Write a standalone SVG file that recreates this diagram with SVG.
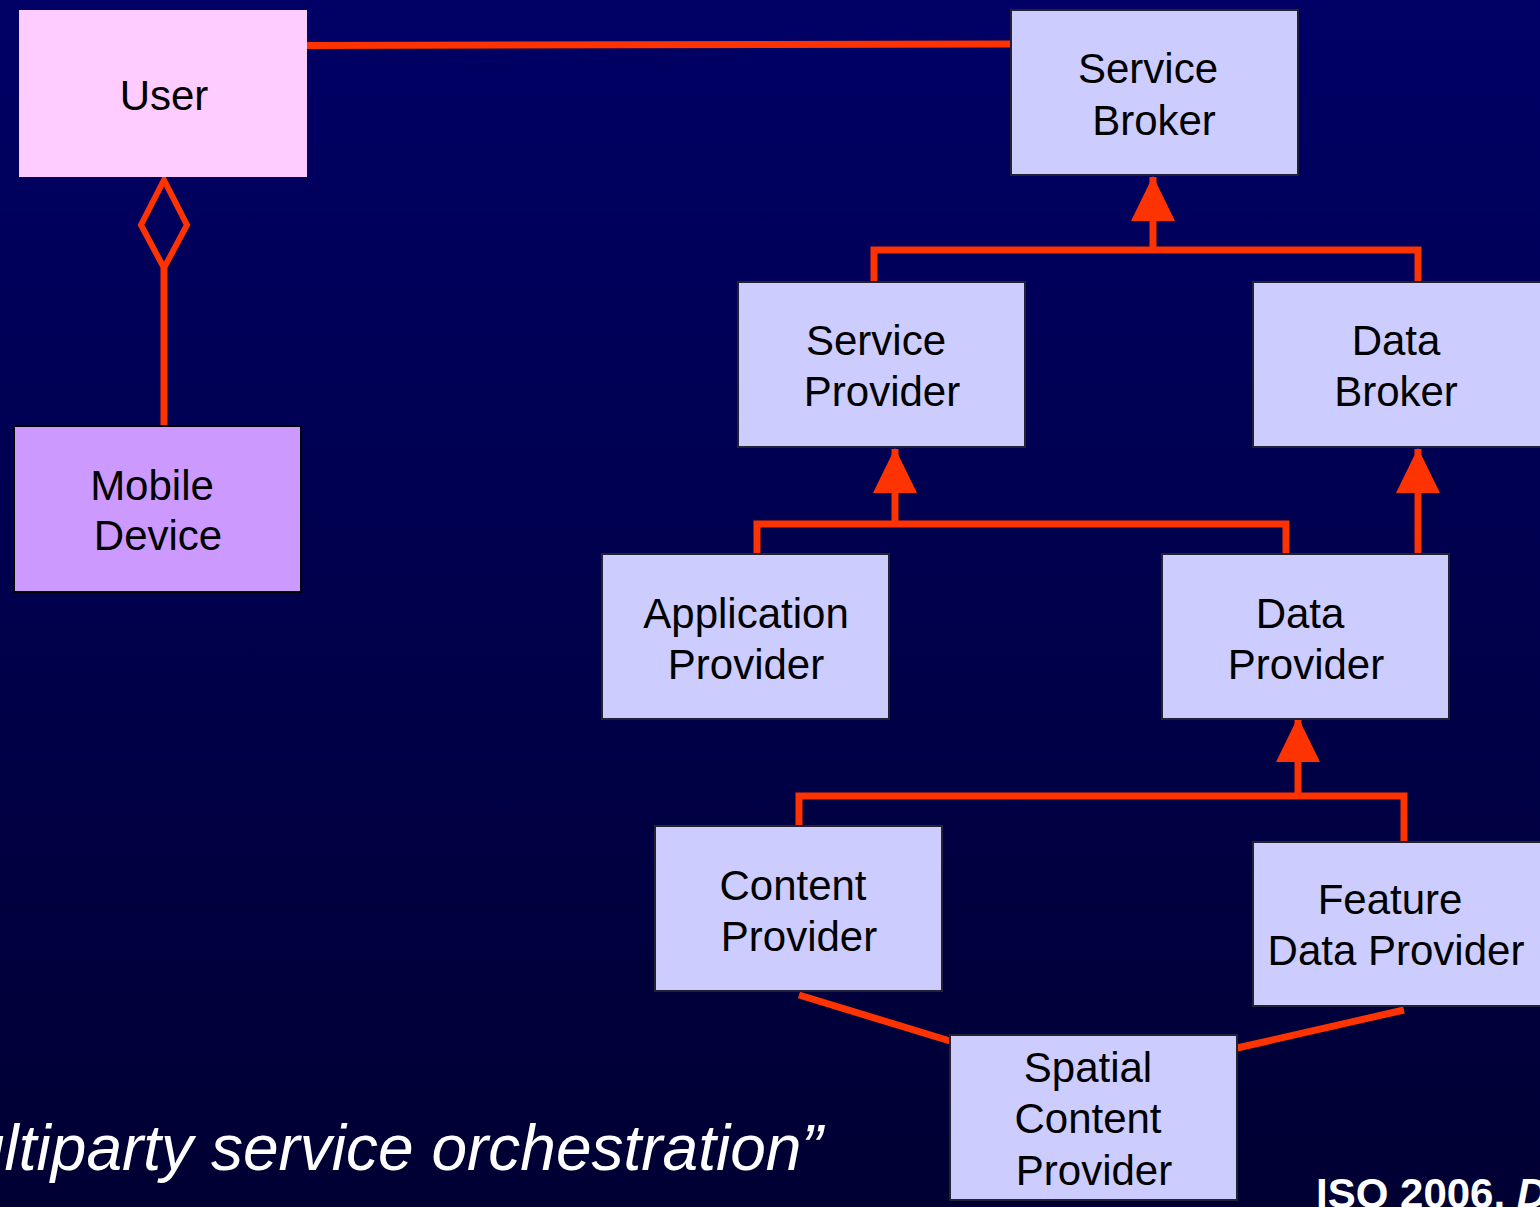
<svg xmlns="http://www.w3.org/2000/svg" width="1540" height="1207" viewBox="0 0 1540 1207">
<style>
.box{fill:#CCCCFF;stroke:#222233;stroke-width:2}
.lbl{font-family:"Liberation Sans",Arial,sans-serif;font-size:42px;fill:#000;text-anchor:middle}
.con{fill:none;stroke:#FF3300;stroke-width:7;stroke-linejoin:miter}
</style>
<defs>
<linearGradient id="bg" x1="0" y1="0" x2="0" y2="1">
<stop offset="0" stop-color="#000066"/>
<stop offset="1" stop-color="#000033"/>
</linearGradient>
<marker id="tri" viewBox="0 0 45 44" refX="44" refY="22" markerWidth="45" markerHeight="44" markerUnits="userSpaceOnUse" orient="auto">
<path d="M0,0 L45,22 L0,44 Z" fill="#FF3300"/>
</marker>
</defs>
<rect x="0" y="0" width="1540" height="1207" fill="url(#bg)"/>

<g id="connectors">
<path class="con" d="M307,45.5 L1011,44"/>
<polygon points="164,180 141,225 164,268 187,225" fill="none" stroke="#FF3300" stroke-width="6"/>
<path class="con" d="M164,268 V426"/>
<path class="con" d="M874,282 V250 H1418 V282"/>
<path class="con" d="M1153,250 V177" marker-end="url(#tri)"/>
<path class="con" d="M757,554 V524 H1286 V554"/>
<path class="con" d="M895,524 V449" marker-end="url(#tri)"/>
<path class="con" d="M1418,554 V449" marker-end="url(#tri)"/>
<path class="con" d="M799,826 V796 H1404 V842"/>
<path class="con" d="M1298,796 V718" marker-end="url(#tri)"/>
<path class="con" d="M799,995 L950,1041"/>
<path class="con" d="M1404,1010 L1237,1048"/>
</g>

<g id="user">
<rect x="19" y="10" width="288" height="167" fill="#FFCCFF"/>
<text class="lbl" x="164" y="110">User</text>
</g>
<g id="service-broker">
<rect class="box" x="1011" y="10" width="287" height="165"/>
<text class="lbl" x="1148" y="83">Service</text>
<text class="lbl" x="1154" y="135">Broker</text>
</g>
<g id="service-provider">
<rect class="box" x="738" y="282" width="287" height="165"/>
<text class="lbl" x="876" y="355">Service</text>
<text class="lbl" x="882" y="406">Provider</text>
</g>
<g id="data-broker">
<rect class="box" x="1253" y="282" width="288" height="165"/>
<text class="lbl" x="1396" y="355">Data</text>
<text class="lbl" x="1396" y="406">Broker</text>
</g>
<g id="mobile-device">
<rect x="14" y="426" width="287" height="166" fill="#CC99FF" stroke="#000" stroke-width="2"/>
<text class="lbl" x="152" y="500">Mobile</text>
<text class="lbl" x="158" y="550">Device</text>
</g>
<g id="application-provider">
<rect class="box" x="602" y="554" width="287" height="165"/>
<text class="lbl" x="746" y="628">Application</text>
<text class="lbl" x="746" y="679">Provider</text>
</g>
<g id="data-provider">
<rect class="box" x="1162" y="554" width="287" height="165"/>
<text class="lbl" x="1300" y="628">Data</text>
<text class="lbl" x="1306" y="679">Provider</text>
</g>
<g id="content-provider">
<rect class="box" x="655" y="826" width="287" height="165"/>
<text class="lbl" x="793" y="900">Content</text>
<text class="lbl" x="799" y="951">Provider</text>
</g>
<g id="feature-data-provider">
<rect class="box" x="1253" y="842" width="288" height="164"/>
<text class="lbl" x="1390" y="914">Feature</text>
<text class="lbl" x="1396" y="965">Data Provider</text>
</g>
<g id="spatial-content-provider">
<rect class="box" x="950" y="1035" width="287" height="165"/>
<text class="lbl" x="1088" y="1082">Spatial</text>
<text class="lbl" x="1088" y="1133">Content</text>
<text class="lbl" x="1094" y="1185">Provider</text>
</g>

<text x="-31" y="1170" font-family="Liberation Sans,Arial,sans-serif" font-size="64" font-style="italic" fill="#FFFFFF">ultiparty service orchestration”</text>
<text x="1316" y="1208" font-family="Liberation Sans,Arial,sans-serif" font-size="42" font-weight="bold" fill="#FFFFFF">ISO 2006, <tspan font-style="italic">D</tspan></text>
</svg>
